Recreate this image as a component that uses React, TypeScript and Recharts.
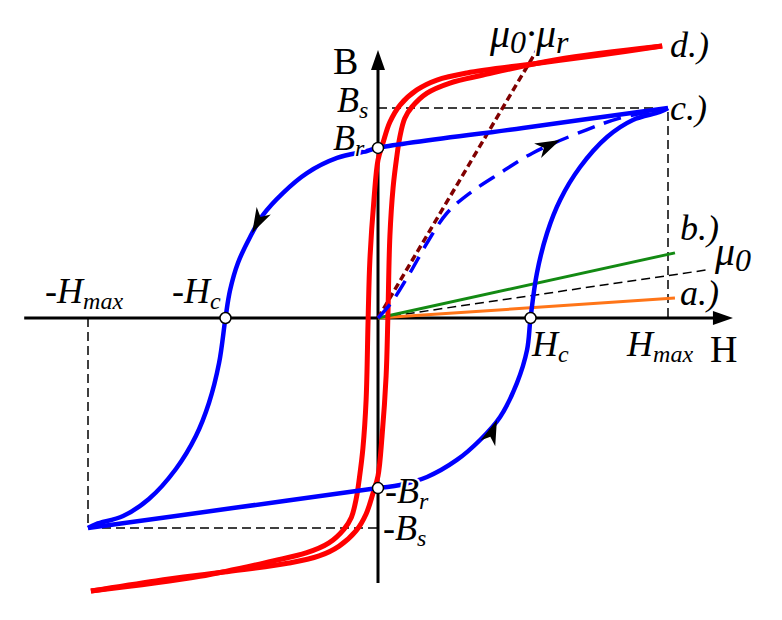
import { ComposedChart, Line, Scatter, XAxis, YAxis } from "recharts";

type Pt = [number, number];

// c.) major loop (H in units of Hmax/10, B in units of Bs/10)
const loopDown: Pt[] = [
  [10, 10], [5, 9.05], [0, 8.1], [-0.38, 7.95], [-1.41, 7.62], [-2.45, 6.9],
  [-3.28, 5.95], [-3.97, 4.9], [-4.41, 3.86], [-4.83, 2.62], [-5.1, 1.33],
  [-5.26, 0], [-5.48, -2.14], [-5.83, -4.05], [-6.28, -5.62], [-6.97, -7.19],
  [-7.9, -8.62], [-8.79, -9.43], [-9.72, -9.81], [-10, -10],
];
const loopUp: Pt[] = [
  [-10, -10], [-5, -9.05], [0, -8.1], [0.76, -7.95], [1.69, -7.57], [2.72, -6.76],
  [3.52, -5.81], [4.21, -4.71], [4.79, -3.1], [5.14, -1.52], [5.26, 0],
  [5.48, 2.14], [5.83, 4.05], [6.28, 5.62], [6.97, 7.19], [7.9, 8.62],
  [8.79, 9.43], [9.72, 9.81], [10, 10],
];
// initial magnetisation curve (dashed)
const virginCurve: Pt[] = [
  [0, 0], [0.45, 0.71], [1.1, 2.14], [1.69, 3.57], [2.38, 5], [3.17, 5.95],
  [4.21, 6.9], [5.34, 7.86], [7.17, 8.95], [8.34, 9.52], [9.55, 9.86],
];
// d.) soft material loop
const softDown: Pt[] = [
  [9.8, 12.95], [7.66, 12.52], [5.34, 12.1], [3.07, 11.67], [2.03, 11.33],
  [1.34, 10.86], [0.76, 10.14], [0.41, 9.33], [0.17, 8.33], [0, 7.52],
  [-0.14, 5.62], [-0.28, 2.76], [-0.34, 0], [-0.41, -3.9], [-0.52, -6.2],
  [-0.64, -7.6], [-0.75, -8.6], [-0.92, -9.5], [-1.17, -10.05], [-1.69, -10.71],
  [-2.48, -11.19], [-3.62, -11.57], [-6.14, -12.3], [-9.9, -13.0],
];
const softUp: Pt[] = [
  [-9.9, -13.0], [-7.66, -12.52], [-5.34, -12.1], [-3.07, -11.67], [-2.03, -11.33],
  [-1.34, -10.86], [-0.76, -10.14], [-0.41, -9.33], [-0.17, -8.33], [0, -7.52],
  [0.14, -5.62], [0.28, -2.76], [0.34, 0], [0.41, 3.9], [0.52, 6.2],
  [0.64, 7.6], [0.75, 8.6], [0.92, 9.5], [1.17, 10.05], [1.69, 10.71],
  [2.48, 11.19], [3.62, 11.57], [6.14, 12.3], [9.8, 12.95],
];
const lineA: Pt[] = [[0, 0], [10.24, 0.95]];
const lineB: Pt[] = [[0, 0], [10.24, 3.1]];
const vacuumLine: Pt[] = [[0, 0], [11.34, 2.29]];
const muLine: Pt[] = [[0, 0], [5.48, 12.76]];

const guideLow: Pt[] = [[-10, 0], [-10, -10], [0, -10]];
const guideHigh: Pt[] = [[0, 10], [10, 10], [10, 0]];
const hAxis: Pt[] = [[-12.2, 0], [11.8, 0]];
const bAxis: Pt[] = [[0, -12.62], [0, 12.3]];

const axisTips = [
  { h: 12.24, b: 0, angle: 0 },
  { h: 0, b: 12.76, angle: -90 },
];
const loopPoints: Pt[] = [[0, 8.1], [0, -8.1], [5.26, 0], [-5.26, 0]];
const dirArrows = [
  { h: -4.34, b: 4.05, angle: 117.6 },
  { h: 4.1, b: -4.86, angle: -68.6 },
  { h: 6.28, b: 8.48, angle: -25.7 },
];

const labels = [
  { h: -1.55, b: 11.6, parts: ["B"], kind: "axis" },
  { h: 11.45, b: -2.1, parts: ["H"], kind: "axis" },
  { h: -1.41, b: 9.81, parts: ["B", "s"], kind: "sym" },
  { h: -1.55, b: 8.0, parts: ["B", "r"], kind: "sym" },
  { h: 0.24, b: -8.81, parts: ["-B", "r"], kind: "sym" },
  { h: 0.17, b: -10.57, parts: ["-B", "s"], kind: "sym" },
  { h: -11.48, b: 0.71, parts: ["-H", "max"], kind: "sym" },
  { h: -7.1, b: 0.71, parts: ["-H", "c"], kind: "sym" },
  { h: 5.31, b: -1.81, parts: ["H", "c"], kind: "sym" },
  { h: 8.59, b: -1.81, parts: ["H", "max"], kind: "sym" },
  { h: 3.86, b: 12.9, parts: ["μ", "0", "·μ", "r"], kind: "mu" },
  { h: 11.62, b: 2.52, parts: ["μ", "0"], kind: "mu" },
  { h: 10.07, b: 12.43, parts: ["d.)"], kind: "sym" },
  { h: 10.07, b: 9.43, parts: ["c.)"], kind: "sym" },
  { h: 10.41, b: 3.71, parts: ["b.)"], kind: "sym" },
  { h: 10.41, b: 0.62, parts: ["a.)"], kind: "sym" },
];

const rows = (pts: Pt[]) => pts.map(([h, b]) => ({ h, b }));

const SERIF = "'Liberation Serif', 'Times New Roman', serif";
const fontSizes: Record<string, [number, number]> = {
  axis: [38, 26],
  sym: [36, 24],
  mu: [40, 32],
};

// centripetal Catmull-Rom through the read points (smooth in screen space)
// eslint-disable-next-line @typescript-eslint/no-explicit-any
const smooth = (ctx: any) => {
  let pts: Pt[] = [];
  const dist = (a: Pt, b: Pt) => Math.hypot(b[0] - a[0], b[1] - a[1]);
  return {
    areaStart() {},
    areaEnd() {},
    lineStart() {
      pts = [];
    },
    point(x: number, y: number) {
      pts.push([+x, +y]);
    },
    lineEnd() {
      if (!pts.length) return;
      ctx.moveTo(pts[0][0], pts[0][1]);
      for (let i = 0; i < pts.length - 1; i++) {
        const p0 = pts[i - 1];
        const p1 = pts[i];
        const p2 = pts[i + 1];
        const p3 = pts[i + 2];
        const d12 = dist(p1, p2);
        const l12a = Math.sqrt(d12);
        let c1: Pt = p1;
        let c2: Pt = p2;
        if (p0) {
          const d01 = dist(p0, p1);
          const l01a = Math.sqrt(d01);
          if (l01a > 1e-6) {
            const a = 2 * d01 + 3 * l01a * l12a + d12;
            const n = 3 * l01a * (l01a + l12a);
            c1 = [
              (p1[0] * a - p0[0] * d12 + p2[0] * d01) / n,
              (p1[1] * a - p0[1] * d12 + p2[1] * d01) / n,
            ];
          }
        }
        if (p3) {
          const d23 = dist(p2, p3);
          const l23a = Math.sqrt(d23);
          if (l23a > 1e-6) {
            const b = 2 * d23 + 3 * l23a * l12a + d12;
            const m = 3 * l23a * (l23a + l12a);
            c2 = [
              (p2[0] * b + p1[0] * d23 - p3[0] * d12) / m,
              (p2[1] * b + p1[1] * d23 - p3[1] * d12) / m,
            ];
          }
        }
        ctx.bezierCurveTo(c1[0], c1[1], c2[0], c2[1], p2[0], p2[1]);
      }
    },
  };
};

function curve(
  id: string,
  pts: Pt[],
  color: string,
  width: number,
  dash?: string,
  curved = false
) {
  return (
    <Line
      key={id}
      data={rows(pts)}
      dataKey="b"
      // eslint-disable-next-line @typescript-eslint/no-explicit-any
      type={(curved ? smooth : "linear") as any}
      stroke={color}
      strokeWidth={width}
      strokeDasharray={dash}
      dot={false}
      activeDot={false}
      legendType="none"
      isAnimationActive={false}
    />
  );
}

// eslint-disable-next-line @typescript-eslint/no-explicit-any
const AxisTip = (p: any) => (
  <path
    d="M0,0 L-20,-7 L-20,7 Z"
    fill="#000"
    transform={`translate(${p.cx},${p.cy}) rotate(${p.payload.angle})`}
  />
);

// eslint-disable-next-line @typescript-eslint/no-explicit-any
const DirArrow = (p: any) => (
  <path
    d="M0,0 L-25,-8 L-18,0 L-25,8 Z"
    fill="#000"
    transform={`translate(${p.cx},${p.cy}) rotate(${p.payload.angle})`}
  />
);

// eslint-disable-next-line @typescript-eslint/no-explicit-any
const OpenDot = (p: any) => (
  <circle cx={p.cx} cy={p.cy} r={5.5} fill="#fff" stroke="#000" strokeWidth={1.5} />
);

// eslint-disable-next-line @typescript-eslint/no-explicit-any
const LabelText = (p: any) => {
  const { parts, kind } = p.payload;
  const [main, sub] = fontSizes[kind];
  return (
    <text
      x={p.cx}
      y={p.cy}
      fontFamily={SERIF}
      fontStyle={kind === "axis" ? "normal" : "italic"}
      fill="#000"
      stroke="#fff"
      strokeWidth={4}
      strokeLinejoin="round"
      paintOrder="stroke"
    >
      {parts.map((t: string, i: number) => (
        <tspan
          key={i}
          dy={i === 0 ? 0 : i % 2 === 1 ? 6 : -6}
          fontSize={i % 2 === 1 ? sub : main}
        >
          {t}
        </tspan>
      ))}
    </text>
  );
};

export default function App() {
  return (
    <div
      style={{
        position: "absolute",
        left: 0,
        top: 0,
        width: 782,
        height: 620,
        background: "#fff",
      }}
    >
      <ComposedChart
        width={782}
        height={620}
        margin={{ top: 24, right: 27, bottom: 8, left: 1 }}
      >
        <XAxis type="number" dataKey="h" domain={[-13, 13]} hide allowDataOverflow />
        <YAxis type="number" dataKey="b" domain={[-14, 14]} hide allowDataOverflow />
        {curve("guideLow", guideLow, "#000", 1.5, "9 5")}
        {curve("guideHigh", guideHigh, "#000", 1.5, "9 5")}
        {curve("hAxis", hAxis, "#000", 3)}
        {curve("bAxis", bAxis, "#000", 3)}
        {curve("vacuum", vacuumLine, "#000", 1.5, "9 5")}
        {curve("lineA", lineA, "#ff7518", 3)}
        {curve("lineB", lineB, "#138a13", 3)}
        {curve("mu", muLine, "#800000", 3.5, "7 4")}
        {curve("softDown", softDown, "#ff0000", 5, undefined, true)}
        {curve("softUp", softUp, "#ff0000", 5, undefined, true)}
        {curve("virgin", virginCurve, "#0000ff", 3.5, "18 10", true)}
        {curve("loopDown", loopDown, "#0000ff", 4.5, undefined, true)}
        {curve("loopUp", loopUp, "#0000ff", 4.5, undefined, true)}
        <Scatter data={axisTips} shape={AxisTip} isAnimationActive={false} />
        <Scatter data={dirArrows} shape={DirArrow} isAnimationActive={false} />
        <Scatter data={rows(loopPoints)} shape={OpenDot} isAnimationActive={false} />
        <Scatter data={labels} shape={LabelText} isAnimationActive={false} />
      </ComposedChart>
    </div>
  );
}
